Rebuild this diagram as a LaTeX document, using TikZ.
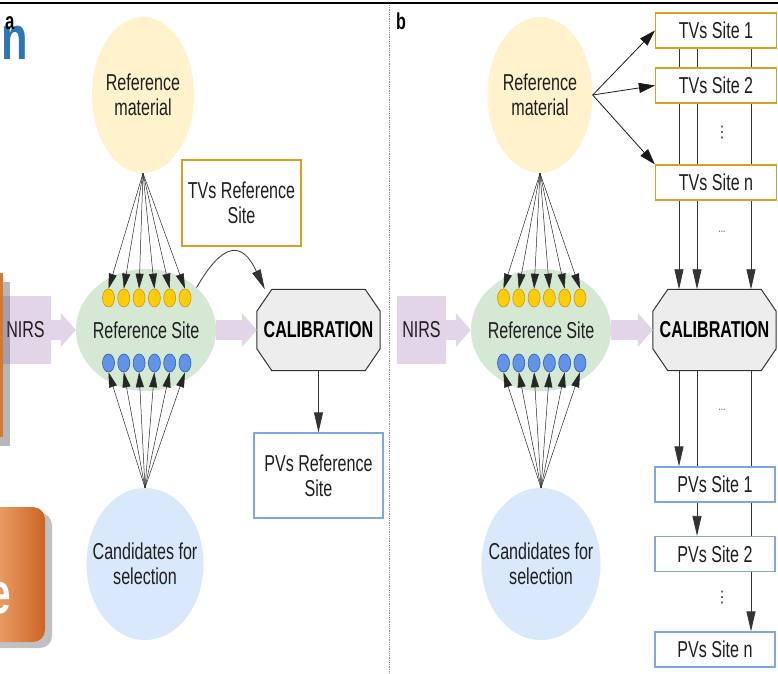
\documentclass[tikz,border=0pt]{standalone}
\usepackage{fontspec}
\setmainfont{Liberation Sans}[FakeStretch=0.70]
\newfontfamily\symfont{DejaVu Sans}
\usepackage{tikz}
\usetikzlibrary{positioning,shapes.geometric,arrows.meta,backgrounds,shadows}

\definecolor{ryellow}{HTML}{FFF2CC}
\definecolor{rgreen}{HTML}{D5E8D4}
\definecolor{rblue}{HTML}{DAE8FC}
\definecolor{rpink}{HTML}{E1D5E7}
\definecolor{rgold}{HTML}{D6A11F}
\definecolor{rlblue}{HTML}{7EA6E0}
\definecolor{dotgold}{HTML}{FFCC0A}
\definecolor{dotgoldline}{HTML}{C9980A}
\definecolor{dotblue}{HTML}{6293E8}
\definecolor{dotblueline}{HTML}{2F5FA8}
\definecolor{rtext}{HTML}{1F1F1F}
\definecolor{titleblue}{HTML}{2E75B6}
\definecolor{slideorange}{HTML}{D9772F}
\definecolor{slidelight}{HTML}{F5B27F}
\definecolor{slidedark}{HTML}{CC6424}

\tikzstyle{material} = [ellipse, fill=ryellow, minimum width=102pt, minimum height=156pt, inner xsep=-30pt, inner ysep=0pt, align=center, text=rtext]
\tikzstyle{site} = [ellipse, fill=rgreen, minimum width=140pt, minimum height=122pt, inner xsep=-30pt, inner ysep=0pt, align=center, text=rtext]
\tikzstyle{cand} = [ellipse, fill=rblue, minimum width=117pt, minimum height=152pt, inner xsep=-30pt, inner ysep=0pt, align=center, text=rtext]
\tikzstyle{nirs} = [rectangle, fill=rpink, minimum width=50pt, minimum height=68pt, inner sep=0pt, text=rtext]
\tikzstyle{calib} = [rectangle, minimum width=123pt, minimum height=81pt, inner sep=0pt, text=black]
\tikzstyle{calframe} = [draw=black!80, fill=black!7, line width=1pt]
\tikzstyle{tvbox} = [rectangle, draw=rgold, line width=1.2pt, fill=white, minimum width=121pt, minimum height=35pt, inner sep=0pt, align=center, text=rtext]
\tikzstyle{pvbox} = [rectangle, draw=rlblue, line width=1.2pt, fill=white, minimum width=120pt, minimum height=35pt, inner sep=0pt, align=center, text=rtext]
\tikzstyle{ydot} = [ellipse, draw=dotgoldline, fill=dotgold, line width=0.6pt, minimum width=12pt, minimum height=18pt, inner sep=0pt]
\tikzstyle{bdot} = [ellipse, draw=dotblueline, fill=dotblue, line width=0.6pt, minimum width=12pt, minimum height=18pt, inner sep=0pt]
\tikzstyle{fan} = [line width=0.5pt, black!85, -{Triangle[length=15pt,width=8pt]}]
\tikzstyle{spread} = [line width=0.8pt, black!90, -{Triangle[length=16pt,width=10pt]}]
\tikzstyle{connect} = [line width=0.8pt, black!80, -{Triangle[length=20pt,width=9pt]}]
\tikzstyle{flow} = [line width=20pt, rpink, -{Triangle[length=15pt,width=34pt,line width=0pt]}]
\tikzstyle{gap} = [inner sep=0pt, text=black!70, font=\fontsize{12}{12}\selectfont]
\tikzstyle{vgap} = [inner sep=0pt, text=black!70, font=\fontsize{16}{16}\symfont]

\newcommand{\octframe}[1]{%
  \draw [calframe] ([xshift=15pt]#1.north west) -- ([xshift=-15pt]#1.north east)
    -- ([yshift=-22pt]#1.north east) -- ([yshift=22pt]#1.south east)
    -- ([xshift=-15pt]#1.south east) -- ([xshift=15pt]#1.south west)
    -- ([yshift=22pt]#1.south west) -- ([yshift=-22pt]#1.north west) -- cycle;}

\begin{document}
\begin{tikzpicture}[x=1pt, y=1pt, node distance=15.3pt, every node/.style={font=\fontsize{23}{25}\selectfont}]
\useasboundingbox (0,0) rectangle (778,673);

\node (titlen) [anchor=base east, inner sep=0pt, text=titleblue, font=\fontsize{62}{62}\selectfont\bfseries] at (28,613) {n};
\draw [line width=2.5pt] (0,670) -- (778,670);
\draw [black!45, densely dotted, line width=0.8pt] (389.5,668) -- (389.5,0);

% panel a
\node (labela) [anchor=base west, inner sep=0pt, font=\fontsize{24}{24}\selectfont\bfseries] at (5,643) {a};
\node (refA) [material] at (143,578) {Reference\\material};
\node (tvref) [tvbox, minimum width=119pt, minimum height=86pt] at (241.5,470) {TVs Reference\\Site};
\node (nirsA) [nirs, minimum width=51pt] at (25.5,343) {NIRS};
\node (siteA) [site] at (146,343) {Reference Site};
\node (calA) [calib, font=\fontsize{23}{25}\selectfont\bfseries] at (318.5,343) {CALIBRATION};
\node (pvref) [pvbox, minimum width=129pt, minimum height=85pt] at (318.5,197.5) {PVs Reference\\Site};
\node (candA) [cand] at (145,109) {Candidates for\\selection};

\node (ya1) [ydot] at (108.5,375) {};
\node (ya2) [ydot, right of=ya1] {};
\node (ya3) [ydot, right of=ya2] {};
\node (ya4) [ydot, right of=ya3] {};
\node (ya5) [ydot, right of=ya4] {};
\node (ya6) [ydot, right of=ya5] {};
\node (ba1) [bdot] at (108.5,310) {};
\node (ba2) [bdot, right of=ba1] {};
\node (ba3) [bdot, right of=ba2] {};
\node (ba4) [bdot, right of=ba3] {};
\node (ba5) [bdot, right of=ba4] {};
\node (ba6) [bdot, right of=ba5] {};

\draw [fan] (refA.south) -- (ya1.north);
\draw [fan] (refA.south) -- (ya2.north);
\draw [fan] (refA.south) -- (ya3.north);
\draw [fan] (refA.south) -- (ya4.north);
\draw [fan] (refA.south) -- (ya5.north);
\draw [fan] (refA.south) -- (ya6.north);
\draw [fan] (candA.north) -- (ba1.south);
\draw [fan] (candA.north) -- (ba2.south);
\draw [fan] (candA.north) -- (ba3.south);
\draw [fan] (candA.north) -- (ba4.south);
\draw [fan] (candA.north) -- (ba5.south);
\draw [fan] (candA.north) -- (ba6.south);

\draw [flow] (nirsA) -- (siteA);
\draw [flow] (siteA) -- (calA);
\draw [connect] (siteA.40) to[out=60, in=115, looseness=2] ([xshift=8pt]calA.north west);
\draw [connect] (calA) -- (pvref);

% panel b
\node (labelb) [anchor=base west, inner sep=0pt, font=\fontsize{23}{23}\selectfont\bfseries] at (396,643) {b};
\node (refB) [material, minimum width=105pt] at (540,578) {Reference\\material};
\node (nirsB) [nirs, minimum width=49pt] at (421.5,343) {NIRS};
\node (siteB) [site] at (541,343) {Reference Site};
\node (calB) [calib, font=\fontsize{23}{25}\selectfont\bfseries] at (714.5,343) {CALIBRATION};
\node (candB) [cand, minimum width=119pt] at (541,109) {Candidates for\\selection};

\node (tv1) [tvbox] at (716,642.5) {TVs Site 1};
\node (tv2) [tvbox, node distance=55pt, below of=tv1] {TVs Site 2};
\node (tvn) [tvbox, node distance=97pt, below of=tv2] {TVs Site n};
\node (pv1) [pvbox] at (715,188.5) {PVs Site 1};
\node (pv2) [pvbox, node distance=69.5pt, below of=pv1] {PVs Site 2};
\node (pvn) [pvbox, node distance=95.5pt, below of=pv2] {PVs Site n};

\node (tvdots) [vgap] at (722,540) {⋮};
\node (tvgap) [gap] at (722,441) {...};
\node (pvgap) [gap] at (722,263) {...};
\node (pvdots) [vgap] at (722,75) {⋮};

\node (yb1) [ydot] at (503.5,375) {};
\node (yb2) [ydot, right of=yb1] {};
\node (yb3) [ydot, right of=yb2] {};
\node (yb4) [ydot, right of=yb3] {};
\node (yb5) [ydot, right of=yb4] {};
\node (yb6) [ydot, right of=yb5] {};
\node (bb1) [bdot] at (503.5,310) {};
\node (bb2) [bdot, right of=bb1] {};
\node (bb3) [bdot, right of=bb2] {};
\node (bb4) [bdot, right of=bb3] {};
\node (bb5) [bdot, right of=bb4] {};
\node (bb6) [bdot, right of=bb5] {};

\draw [fan] (refB.south) -- (yb1.north);
\draw [fan] (refB.south) -- (yb2.north);
\draw [fan] (refB.south) -- (yb3.north);
\draw [fan] (refB.south) -- (yb4.north);
\draw [fan] (refB.south) -- (yb5.north);
\draw [fan] (refB.south) -- (yb6.north);
\draw [fan] (candB.north) -- (bb1.south);
\draw [fan] (candB.north) -- (bb2.south);
\draw [fan] (candB.north) -- (bb3.south);
\draw [fan] (candB.north) -- (bb4.south);
\draw [fan] (candB.north) -- (bb5.south);
\draw [fan] (candB.north) -- (bb6.south);

\draw [flow] (nirsB) -- (siteB);
\draw [flow] (siteB) -- (calB);
\draw [spread] (refB.east) -- (tv1.west);
\draw [spread] (refB.east) -- (tv2.west);
\draw [spread] (refB.east) -- (tvn.north west);

\coordinate (lane1) at ([xshift=-37pt]tv1.south);
\coordinate (lane2) at ([xshift=-19pt]tv1.south);
\coordinate (lane3) at ([xshift=35pt]tv1.south);

\begin{scope}[on background layer]
\octframe{calA}
\octframe{calB}
\draw [connect] (lane1) -- (lane1 |- calB.north);
\draw [connect] (lane2) -- (lane2 |- calB.north);
\draw [connect] (lane3) -- (lane3 |- calB.north);
\draw [connect] (lane1 |- calB.south) -- (lane1 |- pv1.north);
\draw [connect] (lane2 |- calB.south) -- (lane2 |- pv2.north);
\draw [connect] (lane3 |- calB.south) -- (lane3 |- pvn.north);
\end{scope}

% slide leftovers on the left edge
\node (slidebar) [rectangle, fill=slideorange, minimum width=23pt, minimum height=164pt, inner sep=0pt, drop shadow={shadow xshift=7pt, shadow yshift=-9pt, opacity=0.4, fill=black!70}] at (-8.5,318) {};
\node (slidecard) [rectangle, rounded corners=12pt, left color=slidelight, right color=slidedark, minimum width=65pt, minimum height=135pt, inner sep=0pt, drop shadow={shadow xshift=7pt, shadow yshift=-6pt, opacity=0.35, fill=black!70}] at (12.5,98.5) {};
\node (slidee) [anchor=base east, inner sep=0pt, text=white, font=\fontsize{58}{58}\selectfont\bfseries] at (11,60) {e};
\end{tikzpicture}
\end{document}
